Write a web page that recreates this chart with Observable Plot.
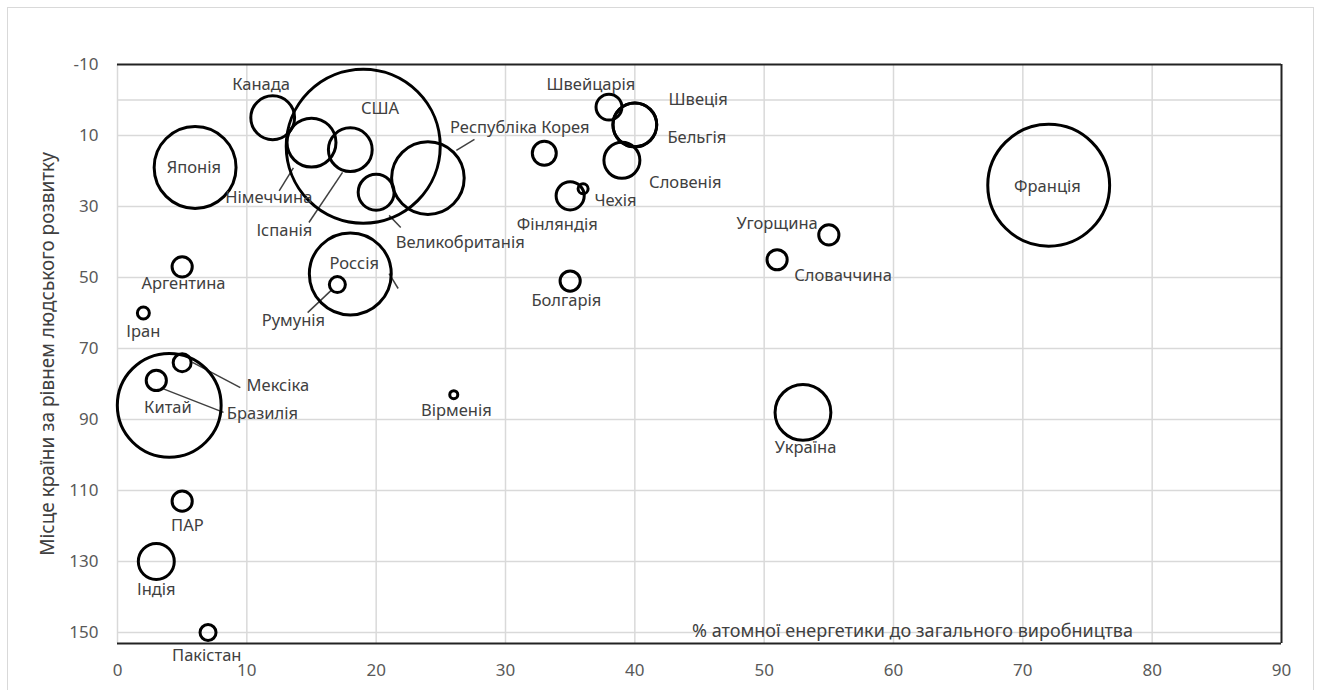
<!DOCTYPE html>
<html>
<head>
<meta charset="utf-8">
<script src="https://cdn.jsdelivr.net/npm/d3@7"></script>
<script src="https://cdn.jsdelivr.net/npm/@observablehq/plot@0.6"></script>
<style>
  html, body { margin: 0; padding: 0; background: #fff; }
  #wrap { position: relative; width: 1320px; height: 690px; overflow: hidden; }
  #border { position: absolute; left: 7px; top: 7px; width: 1307px; height: 700px; border: 1px solid #d9d9d9; box-sizing: border-box; }
  #chart { position: absolute; left: 0; top: 0; }
  svg { display: block; }
</style>
</head>
<body>
<div id="wrap"><div id="border"></div><div id="chart"></div></div>
<script>
// Country names
const countries = ["Канада","США","Німеччина","Іспанія","Республіка Корея","Великобританія","Японія","Россія","Румунія","Аргентина","Іран","Китай","Бразилія","Мексіка","ПАР","Індія","Пакістан","Вірменія","Україна","Франція","Угорщина","Словаччина","Швейцарія","Швеція","Бельгія","Словенія","Фінляндія","Чехія","Болгарія",""];
// % of nuclear energy in total generation (x)
const nuclearShare = [12,19,15,18,24,20,6,18,17,5,2,4,3,5,5,3,7,26,53,72,55,51,38,40,40,39,35,36,35,33];
// Human development rank (y)
const hdiRank = [5,13,12,14,22,26,19,49,52,47,60,86,79,74,113,130,150,83,88,24,38,45,2,7,7,17,27,25,51,15];
// Bubble size values
const bubbleSize = [8,99,10,8,22,5.4,28,28,1.07,1.7,0.6,45,1.7,1.35,1.7,5.4,1.07,0.27,13,62,1.7,1.7,2.8,8,8,5.4,3.3,0.42,1.7,2.4];
// Data label anchor points (data units)
const labelX = [11.1,20.3,11.7,12.9,31.1,26.5,5.9,18.3,13.6,5.1,2.0,3.9,11.2,12.4,5.4,3.0,6.9,26.2,53.2,71.9,51.0,56.1,36.6,44.9,44.8,43.9,34.0,38.5,34.7,0];
const labelY = [-4.4,2.4,27.5,36.8,7.7,40.1,19.0,46.1,62.1,51.7,65.2,86.6,88.3,80.4,119.9,137.9,156.5,87.5,97.9,24.4,34.8,49.4,-4.4,-0.1,10.6,23.2,35.1,28.3,56.5,0];
// Leader lines (data units)
const leaderFromX = [12.5,14.8,21.0,27.6,21.0,14.7,5.8,3.5];
const leaderFromY = [25.6,34.5,32.5,11.1,48.9,59.9,73.9,81.3];
const leaderToX = [13.6,17.4,21.9,26.2,21.7,16.5,9.5,8.2];
const leaderToY = [19.1,20.4,35.9,14.2,53.1,53.7,81.0,88.0];
// Axes
const xTicks = [0,10,20,30,40,50,60,70,80,90];
const yTicks = [-10,10,30,50,70,90,110,130,150];
const yGrid = [0,10,30,50,70,90,110,130,150];
const xGrid = [0,10,20,30,40,50,60,70,80];
const xTitle = "% атомної енергетики до загального виробництва";
const yTitle = "Місце країни за рівнем людського розвитку";

const data = countries.map((c, i) => ({name: c, x: nuclearShare[i], y: hdiRank[i], size: bubbleSize[i], lx: labelX[i], ly: labelY[i]}));
const labels = data.filter(d => d.name !== "");
const leaders = leaderFromX.map((v, i) => ({x1: v, y1: leaderFromY[i], x2: leaderToX[i], y2: leaderToY[i]}));

const chart = Plot.plot({
  width: 1320,
  height: 690,
  marginLeft: 117,
  marginRight: 39,
  marginTop: 64,
  marginBottom: 47,
  x: {domain: [0, 90]},
  y: {domain: [-10, 153.1], reverse: true},
  r: {type: "sqrt", domain: [0, 99], range: [0, 77]},
  style: {fontFamily: "'Noto Sans', sans-serif", background: "transparent"},
  marks: [
    Plot.gridY(yGrid, {stroke: "#d9d9d9", strokeOpacity: 1, strokeWidth: 1.5}),
    Plot.gridX(xGrid, {stroke: "#d9d9d9", strokeOpacity: 1, strokeWidth: 1.5}),
    Plot.axisX(xTicks, {tickSize: 0, tickPadding: 20, fontSize: 17, color: "#595959", label: null, tickFormat: d => String(d)}),
    Plot.axisY(yTicks, {tickSize: 0, tickPadding: 19, fontSize: 17, color: "#595959", label: null, tickFormat: d => String(d)}),
    Plot.ruleY([-10, 153.1], {stroke: "#222", strokeWidth: 2}),
    Plot.ruleX([90], {stroke: "#222", strokeWidth: 2}),
    Plot.link(leaders, {x1: "x1", y1: "y1", x2: "x2", y2: "y2", stroke: "#404040", strokeWidth: 1.5}),
    Plot.dot(data, {x: "x", y: "y", r: "size", stroke: "#000", strokeWidth: 3, fill: "none"}),
    Plot.text(labels, {x: "lx", y: "ly", text: "name", fontSize: 16.5, fill: "#404040", textAnchor: "middle", lineAnchor: "middle"}),
    Plot.text([xTitle], {frameAnchor: "bottom", dx: 213, dy: -12, fontSize: 18, fill: "#404040", textAnchor: "middle", lineAnchor: "middle"}),
    Plot.text([yTitle], {frameAnchor: "left", dx: -70, rotate: -90, fontSize: 19, fill: "#404040", textAnchor: "middle", lineAnchor: "middle"})
  ]
});
document.getElementById("chart").appendChild(chart);
</script>
</body>
</html>
